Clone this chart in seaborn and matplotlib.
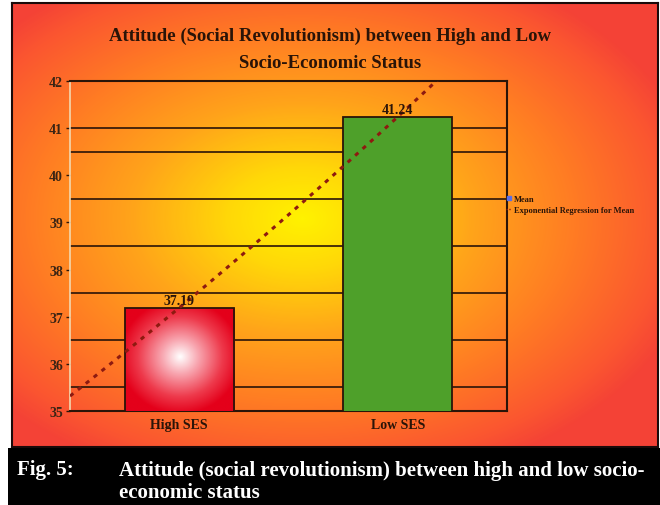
import numpy as np
import pandas as pd
import matplotlib
matplotlib.use("Agg")
import matplotlib.pyplot as plt
import seaborn as sns
from matplotlib.colors import LinearSegmentedColormap
from matplotlib.patches import Rectangle
from matplotlib.lines import Line2D

# ---- data ----
groups = ["High SES", "Low SES"]
means = [37.19, 41.24]
yticks = [35, 36, 37, 38, 39, 40, 41, 42]
grid_levels = [35.5, 36.5, 37.5, 38.5, 39.5, 40.5, 41, 42]
title_lines = "Attitude (Social Revolutionism) between High and Low\nSocio-Economic Status"
caption_label = "Fig. 5:"
caption_text = "Attitude (social revolutionism) between high and low socio-\neconomic status"
legend_labels = ["Mean", "Exponential Regression for Mean"]

sns.set_theme(style="white")
plt.rcParams["font.family"] = ["Liberation Serif", "DejaVu Serif"]
plt.rcParams["font.weight"] = "bold"

W, H = 660, 506
fig = plt.figure(figsize=(W / 100, H / 100), dpi=100, facecolor="white")

# ---- warm radial background panel ----
bx0, by0, bx1, by1 = 12, 4, 658, 448
bg = fig.add_axes([bx0 / W, 1 - by1 / H, (bx1 - bx0) / W, (by1 - by0) / H], zorder=0)
yy, xx = np.mgrid[0:(by1 - by0), 0:(bx1 - bx0)]
cx, cy = 290, 215
r = np.sqrt(((xx - cx) / 360.0) ** 2 + ((yy - cy) / 245.0) ** 2)
warm = LinearSegmentedColormap.from_list(
    "warm",
    [(0.0, "#fff200"), (0.18, "#ffd808"), (0.42, "#ffa41a"),
     (0.68, "#ff7a24"), (0.9, "#fb5630"), (1.0, "#f44236")])
bg.imshow(r, cmap=warm, vmin=0, vmax=1.13, aspect="auto", interpolation="bilinear")
bg.set_xticks([])
bg.set_yticks([])
for s in bg.spines.values():
    s.set_color("#1a0a0a")
    s.set_linewidth(1.5)

# black caption band
fig.patches.append(Rectangle((8 / W, 0), 1 - 8 / W, (H - 449) / H,
                             transform=fig.transFigure, facecolor="black",
                             edgecolor="none", zorder=0))

# ---- main chart ----
ax = fig.add_axes([70 / W, 1 - 412 / H, 437 / W, 330 / H], zorder=2)
ax.set_facecolor("none")

df = pd.DataFrame({"group": groups, "mean": means})
sns.barplot(data=df, x="group", y="mean", hue="group",
            palette=["#e8001c", "#4ea02a"], saturation=1, width=0.5,
            edgecolor="#2a1408", linewidth=1.3, legend=False, ax=ax, zorder=3)

ax.set_xlim(-0.5, 1.5)
ax.set_ylim(35, 42)

# radial white-to-red fill for the first bar
red_bar = ax.patches[0]
x0, w = red_bar.get_x(), red_bar.get_width()
gy, gx = np.mgrid[0:200, 0:200]
rr = np.sqrt(((gx - 100) / 100.0) ** 2 + ((gy - 95) / 100.0) ** 2)
redmap = LinearSegmentedColormap.from_list(
    "redglow", [(0.0, "#ffffff"), (0.3, "#f8a6b0"), (0.7, "#ee3a4c"), (1.0, "#e4001a")])
img = ax.imshow(rr, cmap=redmap, vmin=0, vmax=1.1, aspect="auto",
                extent=(x0, x0 + w, 35, means[0]), zorder=2.9, interpolation="bilinear")
img.set_clip_path(red_bar)
red_bar.set_facecolor("none")

# horizontal rules
for lvl in grid_levels:
    ax.axhline(lvl, color="#2a1408", linewidth=1.2, zorder=1)

# exponential regression through the means
xs = np.arange(len(means))
b, a = np.polyfit(xs, np.log(means), 1)
xfit = np.linspace(-0.5, 1.5, 300)
ax.plot(xfit, np.exp(a + b * xfit), color="#8e1a10", linewidth=2.2,
        linestyle=(0, (1.4, 1.9)), zorder=5)

# value labels
for i, v in enumerate(means):
    ax.text(i, v + 0.02, f"{v:.2f}", ha="center", va="bottom",
            fontsize=10, fontweight="bold", color="#2a1408", zorder=6)

ax.set_yticks(yticks)
ax.set_xlabel("")
ax.set_ylabel("")
ax.tick_params(axis="y", length=3, width=1, color="#2a1408", pad=2,
               labelsize=10, labelcolor="#3a2414", left=True)
ax.tick_params(axis="x", length=0, pad=5, labelsize=10, labelcolor="#2a1408")
for lab in ax.get_xticklabels() + ax.get_yticklabels():
    lab.set_fontweight("bold")

for side in ["top", "right", "bottom"]:
    ax.spines[side].set_visible(True)
    ax.spines[side].set_color("#2a1408")
    ax.spines[side].set_linewidth(1.5)
ax.spines["left"].set_color("#f2d8b0")
ax.spines["left"].set_linewidth(1.2)

# legend
handles = [Line2D([], [], marker="s", markersize=3.5, color="#5a6ee6", linestyle="none"),
           Line2D([], [], color="#8e1a10", linestyle=(0, (1, 1)), linewidth=1)]
fig.legend(handles, legend_labels, loc="upper left",
           bbox_to_anchor=(506 / W, 1 - 196 / H), frameon=False,
           prop={"size": 6, "weight": "bold"}, handlelength=0.6,
           handletextpad=0.3, labelspacing=0.35, borderaxespad=0,
           borderpad=0, labelcolor="#2a1408")

# title
fig.text(330 / W, 1 - 50 / H, title_lines, ha="center", va="center",
         fontsize=13.5, fontweight="bold", color="#2a1408", linespacing=1.75)

# caption
fig.text(17 / W, 1 - 470 / H, caption_label, ha="left", va="center",
         fontsize=15, fontweight="bold", color="white")
fig.text(119 / W, 1 - 482 / H, caption_text, ha="left", va="center",
         fontsize=15, fontweight="bold", color="white", linespacing=1.15)

fig.savefig("out.png", dpi=100, facecolor=fig.get_facecolor())
